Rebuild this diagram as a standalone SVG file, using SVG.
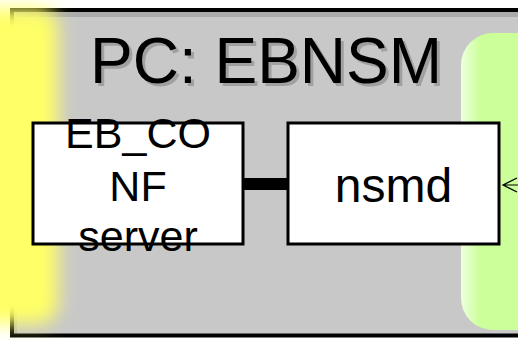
<svg xmlns="http://www.w3.org/2000/svg" width="518" height="340" viewBox="0 0 518 340">
<defs>
<style>
.t{font-family:"Liberation Sans",Arial,sans-serif;fill:#000}
.box{fill:#fff;stroke:#000;stroke-width:3}
</style>
<filter id="blurY" x="-50%" y="-20%" width="200%" height="140%"><feGaussianBlur stdDeviation="9"/></filter>
<linearGradient id="greenFill" gradientUnits="userSpaceOnUse" x1="461" y1="0" x2="480" y2="0">
<stop offset="0" stop-color="#eeffe0"/>
<stop offset="1" stop-color="#ccff99"/>
</linearGradient>
</defs>
<rect x="0" y="0" width="518" height="340" fill="#fff"/>
<g id="pc-ebnsm">
<rect x="12" y="10" width="520" height="325.5" fill="#c8c8c8"/>
<rect x="14" y="12" width="520" height="5" fill="#aaaaaa"/>
<rect x="14" y="12" width="3" height="322" fill="#b4b4b4"/>
<rect x="12" y="10" width="520" height="325.5" fill="none" stroke="#000" stroke-width="4"/>
<text class="t" x="93" y="86" font-size="64" style="fill:#a0a0a0">PC: EBNSM</text>
<text class="t" x="90" y="83" font-size="64">PC: EBNSM</text>
</g>
<g id="yellow-area">
<rect x="-40" y="8" width="98" height="316" rx="20" fill="#ffff66" filter="url(#blurY)"/>
</g>
<g id="green-area">
<rect x="461" y="33" width="120" height="297" rx="32" fill="url(#greenFill)"/>
</g>
<g id="connectors">
<rect x="243" y="178" width="45" height="12" fill="#000"/>
<path d="M518 185 H503 M517 178 L503 185 L517 192" fill="none" stroke="#000" stroke-width="1.2"/>
</g>
<g id="eb-conf-server">
<rect class="box" x="33" y="123" width="210" height="121"/>
<text class="t" x="138" font-size="43" text-anchor="middle"><tspan x="138" y="148">EB_CO</tspan><tspan x="138" y="201">NF</tspan><tspan x="138" y="251">server</tspan></text>
</g>
<g id="nsmd">
<rect class="box" x="288" y="123" width="211" height="121"/>
<text class="t" x="393.5" y="202" font-size="48" text-anchor="middle">nsmd</text>
</g>
</svg>
